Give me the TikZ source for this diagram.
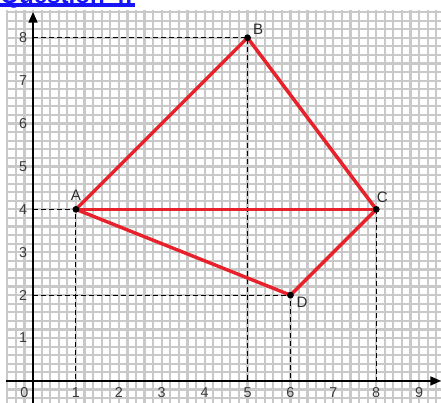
\documentclass[tikz,border=0pt]{standalone}
\usepackage{fontspec}
\setmainfont{Liberation Sans}
\usetikzlibrary{arrows.meta,calc}
\definecolor{gridgray}{HTML}{C9C9C9}
\definecolor{segred}{HTML}{E8222B}
\definecolor{linkblue}{HTML}{1515F5}
\definecolor{numgray}{HTML}{3A3A3A}
\tikzset{
  gridline/.style={draw=gridgray, line width=1.45pt},
  axisline/.style={draw=black, line width=0.8pt, -{Triangle[length=7pt,width=6pt]}},
  guide/.style={draw=black, line width=0.6pt, dash pattern=on 3.3pt off 2pt},
  seg/.style={draw=segred, line width=2.3pt, line cap=round, line join=round},
  vertexdot/.style={circle, fill=black, inner sep=0pt, minimum size=4.5pt},
  numlabel/.style={text=numgray, font=\fontsize{9.5}{10}\selectfont, inner sep=0pt},
  ptlabel/.style={text=numgray!80!black, font=\fontsize{10}{11}\selectfont, inner sep=0pt},
}
\begin{document}
\begin{tikzpicture}
\useasboundingbox (-0.77,-0.513) rectangle (9.51,8.88);
\clip (-0.77,-0.513) rectangle (9.51,8.88);
% header (cut off at the top)
\node[anchor=base west, inner sep=0pt, text=linkblue, font=\fontsize{16}{18}\selectfont\bfseries] (hdr) at (-0.77,8.81) {Question 4:};
\fill[linkblue] (-0.77,8.711) rectangle (2.38,8.804);
% grid
\foreach \i in {-3,...,48} {
  \draw[gridline] (\i*0.2,-0.6) -- (\i*0.2,8.65);
}
\foreach \j in {-3,...,43} {
  \draw[gridline] (-0.62,\j*0.2) -- (9.6,\j*0.2);
}
% axes
\coordinate (xs) at (-0.62,0);
\coordinate (xe) at (9.51,0);
\coordinate (ys) at (0,-0.6);
\coordinate (ye) at (0,8.6);
\draw[axisline] (xs) -- (xe);
\draw[axisline] (ys) -- (ye);
% axis numbers
\node[numlabel] (n0) at (-0.2,-0.28) {0};
\foreach \k in {1,...,9} { \node[numlabel] (nx\k) at (\k,-0.28) {\k}; }
\foreach \k in {1,...,8} { \node[numlabel] (ny\k) at (-0.23,\k) {\k}; }
% points
\coordinate (A) at (1,4);
\coordinate (B) at (5,8);
\coordinate (C) at (8,4);
\coordinate (D) at (6,2);
\coordinate (Ay) at (0,4);
\coordinate (By) at (0,8);
\coordinate (Dy) at (0,2);
\coordinate (Ax) at (1,0);
\coordinate (Bx) at (5,0);
\coordinate (Cx) at (8,0);
\coordinate (Dx) at (6,0);
% guides
\draw[guide] (Ay) -- (A) -- (Ax);
\draw[guide] (By) -- (B) -- (Bx);
\draw[guide] (C) -- (Cx);
\draw[guide] (Dy) -- (D) -- (Dx);
% figure
\draw[seg] (A) -- (B) -- (C) -- (D) -- cycle;
\draw[seg] (A) -- (C);
\foreach \p in {A,B,C,D} { \node[vertexdot] (dot\p) at (\p) {}; }
% labels
\node[ptlabel] (lA) at ($(A)+(0,0.33)$) {A};
\node[ptlabel] (lB) at ($(B)+(0.25,0.2)$) {B};
\node[ptlabel] (lC) at ($(C)+(0.14,0.28)$) {C};
\node[ptlabel] (lD) at ($(D)+(0.27,-0.16)$) {D};
\end{tikzpicture}
\end{document}
